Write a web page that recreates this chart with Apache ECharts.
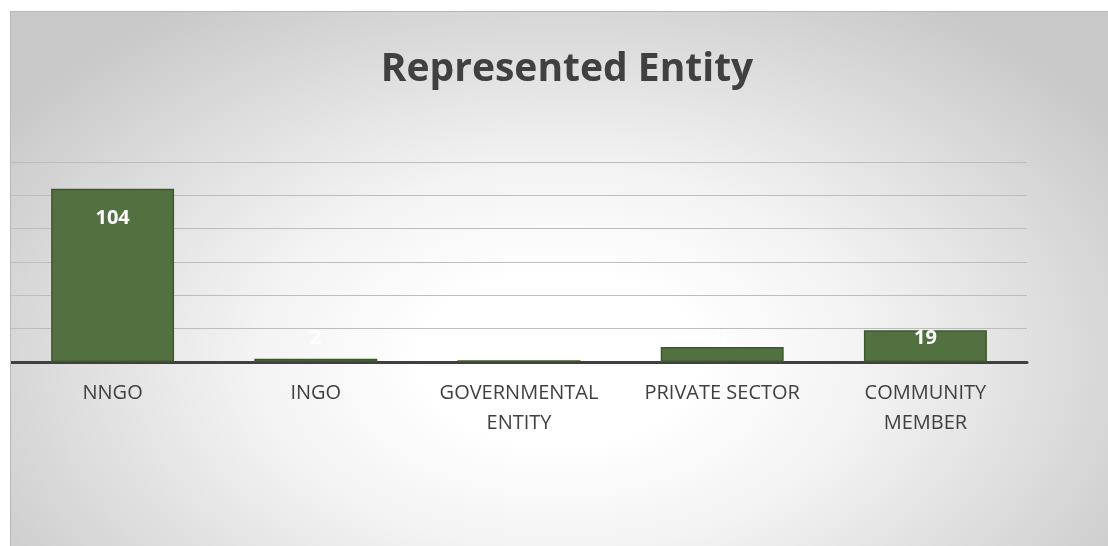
<!DOCTYPE html>
<html><head><meta charset="utf-8">
<script src="https://cdn.jsdelivr.net/npm/echarts@6/dist/echarts.min.js"></script>
<style>
html,body{margin:0;padding:0;background:#fff;width:1108px;height:546px;overflow:hidden;}
#c{position:absolute;left:10px;top:11px;width:1098px;height:535px;
 border-left:1px solid #b8b8b8;border-top:1px solid #b8b8b8;box-sizing:border-box;
 background:radial-gradient(ellipse 62% 80% at 50% 65%, #ffffff 20%, #f3f3f3 45%, #c8c8c8 100%);}
</style></head>
<body><div id="c"></div>
<script>
const categories = ['NNGO','INGO','GOVERNMENTAL\nENTITY','PRIVATE SECTOR','COMMUNITY\nMEMBER'];
const values = [104, 2, 1, 9, 19];
const yTicks = [0, 20, 40, 60, 80, 100, 120];

const chart = echarts.init(document.getElementById('c'), null, {renderer:'canvas'});
const FONT = '"Open Sans", "Noto Sans", sans-serif';
chart.setOption({
  backgroundColor: 'transparent',
  animation: false,
  title: {
    text: 'Represented Entity',
    left: 551, top: 33, textAlign: 'center',
    textStyle: {fontFamily: FONT, fontSize: 39, fontWeight: 'bold', color: '#404040'}
  },
  grid: {left: 0, right: 81, top: 150, bottom: 184, containLabel: false},
  xAxis: {
    type: 'category',
    data: categories,
    axisLine: {show: true, lineStyle: {color: '#404040', width: 3}},
    axisTick: {show: false},
    axisLabel: {fontFamily: FONT, fontSize: 20, color: '#404040', margin: 16, lineHeight: 30, interval: 0}
  },
  yAxis: {
    type: 'value',
    min: yTicks[0], max: yTicks[yTicks.length-1], interval: yTicks[1]-yTicks[0],
    axisLabel: {show: false},
    axisLine: {show: false},
    axisTick: {show: false},
    splitLine: {lineStyle: {color: '#bdbdbd', width: 1}}
  },
  series: [{
    type: 'bar',
    barWidth: '60.5%',
    data: values.map(v => ({
      value: v,
      label: v > 40 ? {position: 'insideTop', distance: 20} : {position: 'insideBottom', distance: 14}
    })),
    itemStyle: {color: '#537040', borderColor: '#3b5a2b', borderWidth: 1.5},
    label: {show: true, color: '#ffffff', fontFamily: FONT, fontSize: 20, fontWeight: 'bold'}
  }]
});
</script></body></html>
